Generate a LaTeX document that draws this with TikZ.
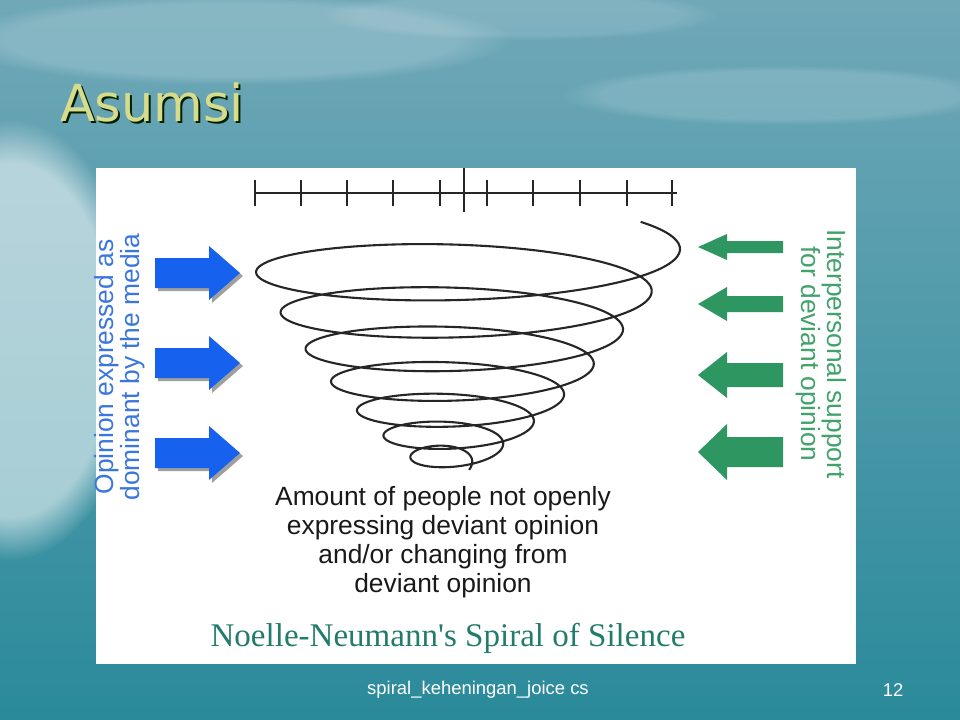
\documentclass[tikz,border=0pt]{standalone}
\usepackage{fontspec}
\setmainfont{Liberation Sans}
\newfontfamily\titlefont{DejaVu Sans}
\newfontfamily\capfont{Liberation Serif}
\usetikzlibrary{fadings}

\definecolor{bgtop}{RGB}{112,168,184}
\definecolor{bgmid}{RGB}{70,152,170}
\definecolor{bgbot}{RGB}{42,138,154}
\definecolor{mediablue}{RGB}{22,98,238}
\definecolor{mediatext}{RGB}{58,118,222}
\definecolor{supportgreen}{RGB}{46,150,96}
\definecolor{supporttext}{RGB}{66,162,108}
\definecolor{capgreen}{RGB}{34,124,108}
\definecolor{titleyellow}{RGB}{214,220,140}

\begin{document}
\begin{tikzpicture}
[x=0.2mm,y=-0.2mm,
 every node/.style={inner sep=0pt,outer sep=0pt},
 rule/.style={line width=0.5mm,black!85},
 spiral/.style={line width=0.42mm,black!85,line join=round},
 glow/.style={white,path fading=circle with fuzzy edge 20 percent},
 sidelbl/.style={align=center,font=\fontsize{15}{15}\selectfont},
 midlbl/.style={align=center,font=\fontsize{15}{16.5}\selectfont,black!90},
 caplbl/.style={font=\capfont\fontsize{18.8}{20}\selectfont,capgreen},
 foot/.style={font=\fontsize{10.5}{12}\selectfont,white},
 titlelbl/.style={font=\titlefont\fontsize{29}{32}\selectfont,anchor=base west}]
\useasboundingbox (0,0) rectangle (960,720);
\clip (0,0) rectangle (960,720);
% background
\fill[top color=bgtop,middle color=bgmid,bottom color=bgbot] (0,0) rectangle (960,720);
\fill[glow,opacity=.55] (10,340) ellipse (130 and 220);
\fill[glow,opacity=.18] (230,40) ellipse (280 and 45);
\fill[glow,opacity=.15] (780,95) ellipse (220 and 30);
\fill[glow,opacity=.12] (520,15) ellipse (200 and 25);

% title
\node[titlelbl,black!60!green!30!black] (titleshadow) at (62,124) {Asumsi};
\node[titlelbl,titleyellow] (title) at (60,122) {Asumsi};

% white panel
\fill[white] (96,168) rectangle (856,664);

% ruler
\draw[rule] (255,193) -- (677,193);
\foreach \x in {255,301,347,393,440,487,533,580,627,672}
  \draw[rule] (\x,180) -- (\x,206);
\draw[rule] (464,168) -- (464,212);

% spiral
\draw[spiral] plot[domain=-0.1:7.05,samples=650,smooth,variable=\u]
  ({462-2*\u+(218-26*\u-0.25*\u*\u)*cos(360*\u)},
   {250+44*\u-1.9*\u*\u+(40-3.8*\u)*sin(360*\u)});

% media arrows
\foreach \y in {273,363,453} {
  \begin{scope}[shift={(0,\y)}]
    \fill[gray!75] (158,-12) -- (212,-12) -- (212,-24) -- (243,3) -- (212,30) -- (212,18) -- (158,18) -- cycle;
    \fill[mediablue] (155,-15) -- (209,-15) -- (209,-27) -- (240,0) -- (209,27) -- (209,15) -- (155,15) -- cycle;
  \end{scope}
}

% interpersonal arrows
\foreach \y/\h/\H in {247/6/13,304/8/17,375/12/23,452/15/28} {
  \begin{scope}[shift={(0,\y)}]
    \fill[supportgreen] (783,-\h) -- (727,-\h) -- (727,-\H) -- (698,0) -- (727,\H) -- (727,\h) -- (783,\h) -- cycle;
  \end{scope}
}

% labels
\node[sidelbl,mediatext,rotate=90] (media) at (120,367) {Opinion expressed as\\dominant by the media};
\node[sidelbl,supporttext,rotate=-90] (support) at (821,354) {Interpersonal support\\for deviant opinion};
\node[midlbl] (amount) at (443,542) {Amount of people not openly\\expressing deviant opinion\\and/or changing from\\deviant opinion};
\node[caplbl] (caption) at (448,638) {Noelle-Neumann's Spiral of Silence};

% footer
\node[foot] (fname) at (478,690) {spiral\_keheningan\_joice cs};
\node[foot] (pageno) at (893,690) {12};
\end{tikzpicture}
\end{document}
